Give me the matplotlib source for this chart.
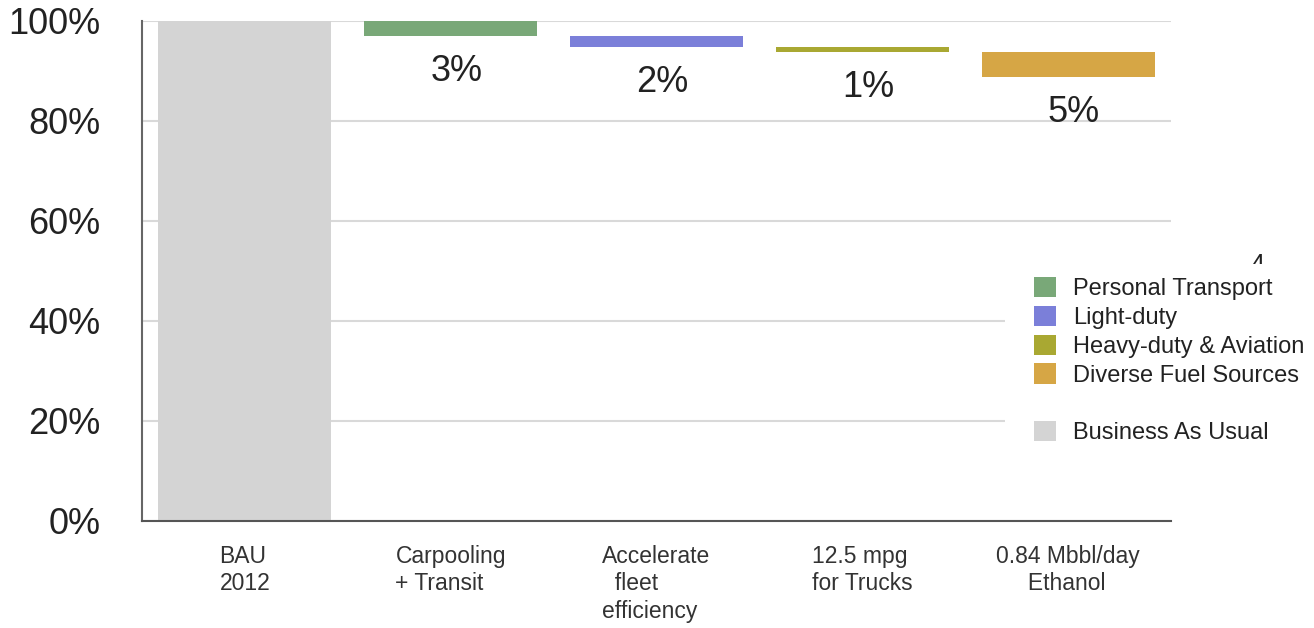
import matplotlib
matplotlib.use("Agg")
import matplotlib.pyplot as plt
from matplotlib.patches import Patch, Rectangle
import numpy as np

plt.rcParams["font.family"] = ["Liberation Sans", "DejaVu Sans"]

categories = ["BAU\n2012", "Carpooling\n+ Transit", "Accelerate\n  fleet\nefficiency",
              "12.5 mpg\nfor Trucks", "0.84 Mbbl/day\n     Ethanol"]
baseline = 100
reductions = [3, 2.2, 1, 5]
groups = ["Personal Transport", "Light-duty", "Heavy-duty & Aviation", "Diverse Fuel Sources"]
group_colors = ["#79A878", "#7B7FD9", "#A9A832", "#D6A645"]
bau_label = "Business As Usual"
bau_color = "#D4D4D4"
y_ticks = [0, 20, 40, 60, 80, 100]

fig = plt.figure(figsize=(13.14, 6.28), dpi=100)
ax = fig.add_axes([142 / 1314, 1 - 521 / 628, 1029 / 1314, 500 / 628])

x = np.arange(len(categories))
width = 0.84

ax.bar(x[0], baseline, width=width, color=bau_color, zorder=2)

tops = baseline - np.concatenate([[0], np.cumsum(reductions)[:-1]])
for i, (top, val, col) in enumerate(zip(tops, reductions, group_colors)):
    ax.bar(x[i + 1], val, bottom=top - val, width=width, color=col, zorder=2)
    ax.annotate(f"{round(val)}%", xy=(x[i + 1], top - val), xytext=(4, -13),
                textcoords="offset points", ha="center", va="top",
                fontsize=26, color="#222222")

ax.set_xlim(-0.5, len(categories) - 0.5)
ax.set_ylim(0, 100)
ax.set_yticks(y_ticks)
ax.set_yticklabels([f"{t}%" for t in y_ticks], fontsize=26, color="#222222")
ax.set_xticks(x)
ax.set_xticklabels(categories, fontsize=16.5, color="#333333", linespacing=1.25,
                   multialignment="left", va="top")
ax.tick_params(axis="y", length=0, pad=30)
ax.tick_params(axis="x", length=0, pad=17)

ax.set_axisbelow(True)
ax.yaxis.grid(True, color="#D9D9D9", linewidth=1.5)
for s in ["top", "right"]:
    ax.spines[s].set_visible(False)
ax.spines["left"].set_color("#666666")
ax.spines["bottom"].set_color("#555555")
ax.spines["left"].set_linewidth(1.5)
ax.spines["bottom"].set_linewidth(1.5)

# stray glyph peeking above the legend area (lower part hidden)
fig.text(1257 / 1314, 1 - 253 / 628, "4", fontsize=18, ha="center", va="top",
         color="#222222", zorder=0.5)
fig.patches.append(Rectangle((1005 / 1314, 1 - 460 / 628), 309 / 1314, 196 / 628,
                             transform=fig.transFigure, facecolor="white",
                             edgecolor="none", zorder=1))

handles = [Patch(facecolor=c) for c in group_colors]
handles.append(Patch(facecolor="none", edgecolor="none"))
handles.append(Patch(facecolor=bau_color))
labels = groups + [" ", bau_label]
leg = fig.legend(handles, labels, loc="upper left",
                 bbox_to_anchor=(1034 / 1314, 1 - 277 / 628),
                 frameon=False, fontsize=17, handlelength=0.93, handleheight=0.93,
                 handletextpad=0.72, labelspacing=0.24, borderpad=0, borderaxespad=0)
for t in leg.get_texts():
    t.set_color("#222222")
leg.set_zorder(5)

fig.savefig("out.png", dpi=100)
